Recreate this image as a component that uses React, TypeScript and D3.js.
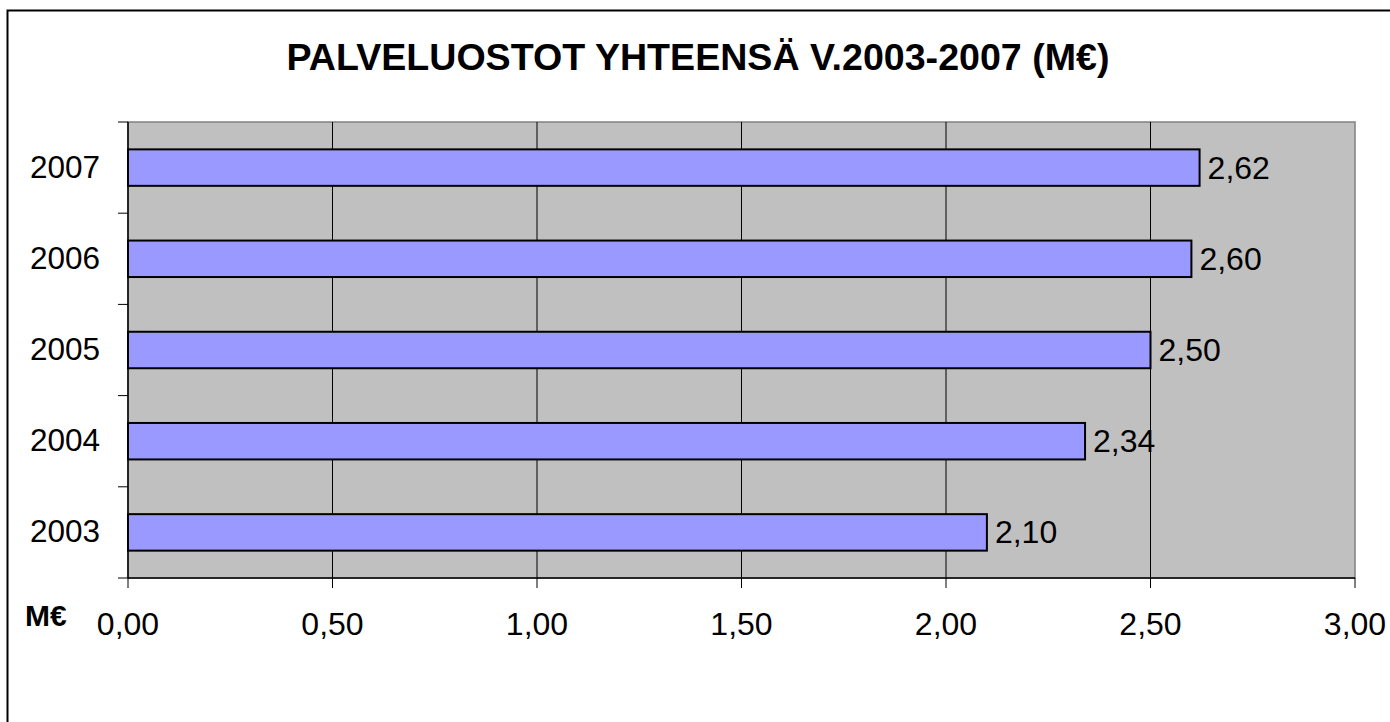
import React from 'react';
import * as d3 from 'd3';

const years = ['2007', '2006', '2005', '2004', '2003'];
const values = [2.62, 2.6, 2.5, 2.34, 2.1];
const xTicks = [0, 0.5, 1, 1.5, 2, 2.5, 3];
const title = 'PALVELUOSTOT YHTEENSÄ V.2003-2007 (M€)';
const unitLabel = 'M€';

const W = 1390;
const H = 722;
const plot = { left: 128, top: 122, right: 1355, bottom: 578 };
const font = '"Liberation Sans", Arial, sans-serif';
const fmt = (v: number) => v.toFixed(2).replace('.', ',');

const App = () => {
  const x = d3.scaleLinear().domain([0, 3]).range([plot.left, plot.right]);
  const y = d3
    .scaleBand<string>()
    .domain(years)
    .range([plot.top, plot.bottom])
    .paddingInner(0.6)
    .paddingOuter(0.3);
  const step = (plot.bottom - plot.top) / years.length;

  return (
    <svg width={W} height={H} style={{ position: 'absolute', left: 0, top: 0 }}>
      <rect x={0} y={0} width={W} height={H} fill="#fff" />
      <rect x={7.5} y={10.5} width={W + 10} height={H + 10} fill="none" stroke="#000" strokeWidth={2} />

      <text x={698} y={70} textAnchor="middle" fontFamily={font} fontWeight="bold" fontSize={37.6}>
        {title}
      </text>

      {/* plot area */}
      <rect
        x={plot.left}
        y={plot.top}
        width={plot.right - plot.left}
        height={plot.bottom - plot.top}
        fill="#C0C0C0"
        stroke="#808080"
        strokeWidth={1.5}
      />

      {/* vertical grid lines */}
      {xTicks.slice(1, -1).map((t) => (
        <line key={t} x1={x(t)} x2={x(t)} y1={plot.top} y2={plot.bottom} stroke="#000" strokeWidth={1} />
      ))}

      {/* bars */}
      {years.map((yr, i) => {
        const cy = y(yr)! + y.bandwidth() / 2;
        return (
          <g key={yr}>
            <rect
              x={x(0)}
              y={y(yr)!}
              width={x(values[i]) - x(0)}
              height={y.bandwidth()}
              fill="#9999FF"
              stroke="#000"
              strokeWidth={2}
            />
            <text x={x(values[i]) + 8} y={cy + 11} fontFamily={font} fontSize={32}>
              {fmt(values[i])}
            </text>
            <text x={100} y={cy + 10} textAnchor="end" fontFamily={font} fontSize={31.5}>
              {yr}
            </text>
          </g>
        );
      })}

      {/* axes */}
      <line x1={plot.left} x2={plot.left} y1={plot.top} y2={plot.bottom} stroke="#000" strokeWidth={1.5} />
      <line x1={plot.left} x2={plot.right} y1={plot.bottom} y2={plot.bottom} stroke="#000" strokeWidth={1.5} />
      {d3.range(years.length + 1).map((i) => (
        <line
          key={i}
          x1={plot.left - 10}
          x2={plot.left}
          y1={plot.top + i * step}
          y2={plot.top + i * step}
          stroke="#000"
          strokeWidth={1}
        />
      ))}
      {xTicks.map((t) => (
        <g key={t}>
          <line x1={x(t)} x2={x(t)} y1={plot.bottom} y2={plot.bottom + 10} stroke="#000" strokeWidth={1} />
          <text x={x(t)} y={635} textAnchor="middle" fontFamily={font} fontSize={32}>
            {fmt(t)}
          </text>
        </g>
      ))}
      <text x={25} y={626} fontFamily={font} fontWeight="bold" fontSize={30}>
        {unitLabel}
      </text>
    </svg>
  );
};

export default App;
